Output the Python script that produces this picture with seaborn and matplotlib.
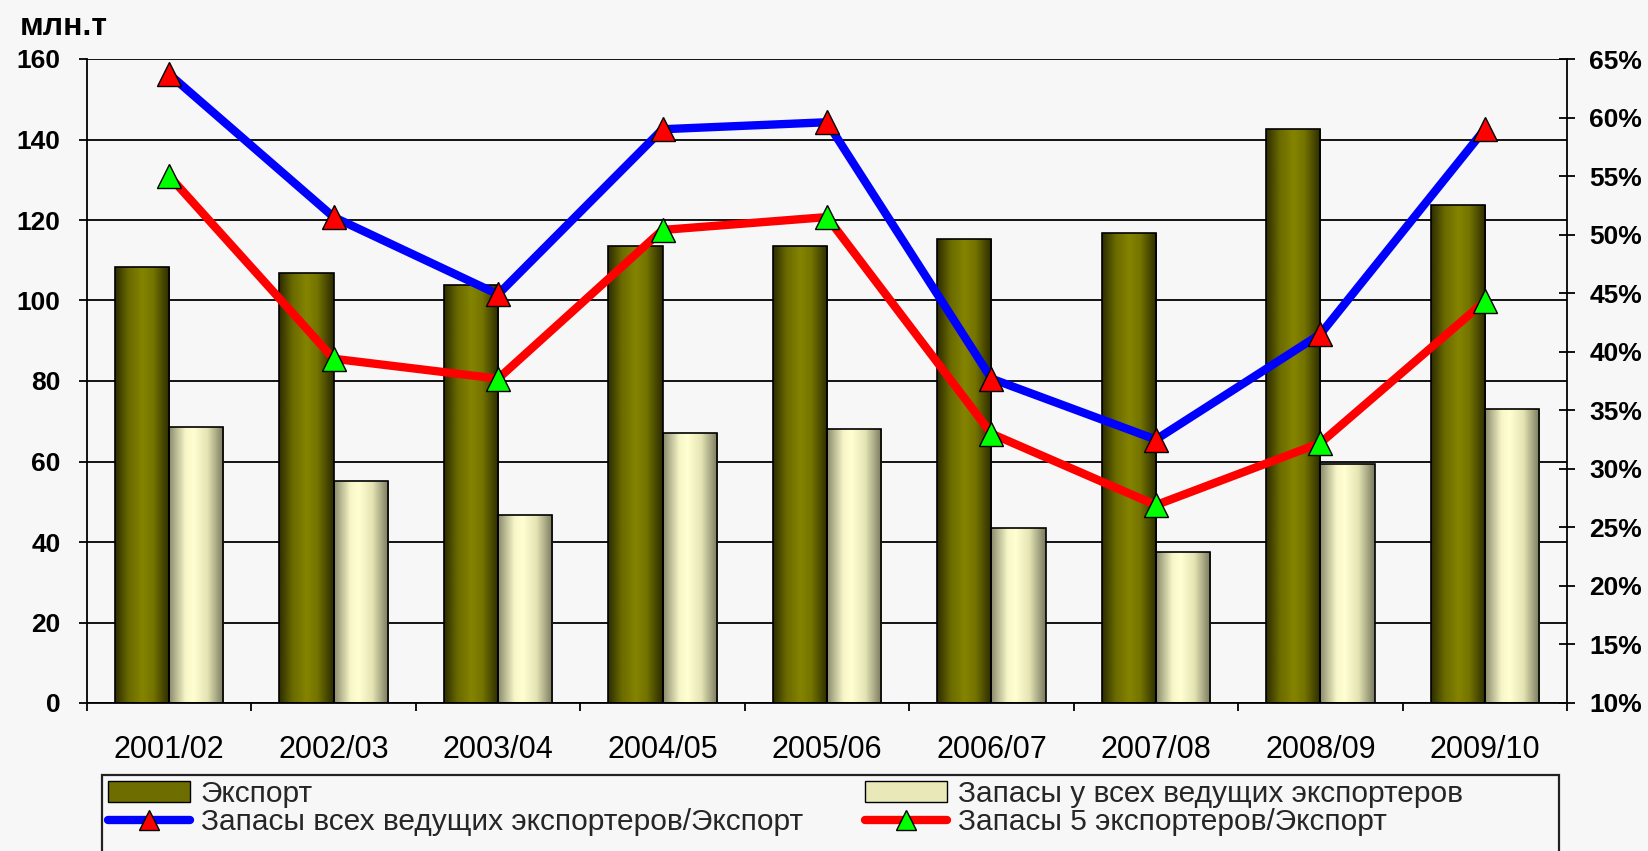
import numpy as np
import pandas as pd
import matplotlib
matplotlib.use("Agg")
import matplotlib.pyplot as plt
import seaborn as sns
from matplotlib.colors import LinearSegmentedColormap
from matplotlib.patches import Rectangle
from matplotlib.lines import Line2D
from matplotlib.ticker import MultipleLocator, FuncFormatter

# ---------------- data ----------------
years = ["2001/02", "2002/03", "2003/04", "2004/05", "2005/06",
         "2006/07", "2007/08", "2008/09", "2009/10"]
export = [108.2, 106.8, 103.8, 113.6, 113.6, 115.3, 116.8, 142.6, 123.7]
stocks = [68.6, 55.2, 46.6, 67.1, 68.0, 43.6, 37.6, 59.5, 73.0]
ratio_all = [63.7, 51.5, 44.9, 59.0, 59.6, 37.7, 32.5, 41.5, 59.0]
ratio_top5 = [55.0, 39.4, 37.7, 50.4, 51.5, 33.0, 26.9, 32.2, 44.3]

lab_export = "Экспорт"
lab_stocks = "Запасы у всех ведущих экспортеров"
lab_ratio_all = "Запасы всех ведущих экспортеров/Экспорт"
lab_ratio_5 = "Запасы 5 экспортеров/Экспорт"
unit_label = "млн.т"

# ---------------- style ----------------
BG = "#f7f7f7"
sns.set_theme(style="white")
plt.rcParams["font.family"] = ["Liberation Sans", "DejaVu Sans"]

W, H = 1648, 851
fig = plt.figure(figsize=(W / 100, H / 100), dpi=100, facecolor=BG)
ax = fig.add_axes([87 / W, 1 - 703 / H, (1567 - 87) / W, (703 - 59) / H])
ax.set_facecolor(BG)

df = pd.DataFrame({
    "year": years * 2,
    "value": export + stocks,
    "series": [lab_export] * len(years) + [lab_stocks] * len(years),
})
sns.barplot(data=df, x="year", y="value", hue="series",
            palette=["#7a7a00", "#f0f0c0"], width=0.66, gap=0,
            saturation=1, edgecolor="black", linewidth=1.2,
            legend=False, ax=ax)

# cylinder-like gradients on bars
cmap_exp = LinearSegmentedColormap.from_list(
    "exp", [(0, "#2c2c00"), (0.25, "#6a6a00"), (0.5, "#848400"),
            (0.7, "#747400"), (1, "#2a2a00")])
cmap_stk = LinearSegmentedColormap.from_list(
    "stk", [(0, "#8a8a6c"), (0.3, "#f6f6c8"), (0.45, "#ffffd2"),
            (0.7, "#e4e4b4"), (1, "#78785e")])
grad = np.linspace(0, 1, 256).reshape(1, -1)
for cont, cmap in zip(ax.containers, [cmap_exp, cmap_stk]):
    for bar in cont:
        x0, y0 = bar.get_x(), bar.get_y()
        w, h = bar.get_width(), bar.get_height()
        z = bar.get_zorder()
        im = ax.imshow(grad, cmap=cmap, extent=[x0, x0 + w, y0, y0 + h],
                       aspect="auto", origin="lower", interpolation="bicubic",
                       zorder=z + 0.05)
        im.set_clip_path(bar)
        bar.set_facecolor("none")
        bar.set_zorder(z + 0.1)

ax.set_xlim(-0.5, len(years) - 0.5)
ax.set_ylim(0, 160)
ax.set_axisbelow(True)
ax.yaxis.grid(True, color="black", linewidth=1.3)
ax.xaxis.grid(False)
ax.set_xlabel("")
ax.set_ylabel("")
ax.set_yticks(range(0, 161, 20))
ax.tick_params(axis="y", left=True, direction="out", length=6, width=1.3,
               color="black", pad=13, labelsize=19, labelcolor="black")
for t in ax.get_yticklabels():
    t.set_fontweight("bold")
ax.set_xticks(range(len(years)))
ax.set_xticklabels(years)
ax.tick_params(axis="x", which="major", bottom=False, length=0, pad=23,
               labelsize=22, labelcolor="black")
ax.set_xticks(np.arange(-0.5, len(years), 1), minor=True)
ax.tick_params(axis="x", which="minor", bottom=True, direction="out",
               length=6, width=1.3, color="black")
for s in ["top", "right"]:
    ax.spines[s].set_visible(False)
for s in ["left", "bottom"]:
    ax.spines[s].set_color("black")
    ax.spines[s].set_linewidth(1.3)

# secondary axis with ratio lines
ax2 = ax.twinx()
xpos = np.arange(len(years))
sns.lineplot(x=xpos, y=ratio_all, color="#0000ff", linewidth=6,
             marker="^", markersize=17, markerfacecolor="#ff0000",
             markeredgecolor="black", markeredgewidth=1, ax=ax2, zorder=5)
sns.lineplot(x=xpos, y=ratio_top5, color="#ff0000", linewidth=6,
             marker="^", markersize=17, markerfacecolor="#00ff00",
             markeredgecolor="black", markeredgewidth=1, ax=ax2, zorder=5)
ax2.set_ylim(10, 65)
ax2.set_xlim(-0.5, len(years) - 0.5)
ax2.yaxis.set_major_locator(MultipleLocator(5))
ax2.yaxis.set_major_formatter(FuncFormatter(lambda v, p: f"{int(round(v))}%"))
ax2.tick_params(axis="y", right=True, direction="inout", length=12,
                width=1.3, color="black", pad=10, labelsize=19,
                labelcolor="black")
for t in ax2.get_yticklabels():
    t.set_fontweight("bold")
ax2.set_ylabel("")
ax2.grid(False)
for s in ["top", "left", "bottom"]:
    ax2.spines[s].set_visible(False)
ax2.spines["right"].set_color("black")
ax2.spines["right"].set_linewidth(1.3)

# unit label
fig.text(20 / W, 1 - 35 / H, unit_label, fontsize=23, fontweight="bold",
         ha="left", va="baseline", color="black")

# legend frame + two columns
fig.add_artist(Rectangle((102 / W, -0.05), (1559 - 102) / W,
                         (H - 775) / H + 0.05, transform=fig.transFigure,
                         fill=False, edgecolor="#222222", linewidth=1.6))
h_exp = Rectangle((0, 0), 1, 1, facecolor="#6e6e00", edgecolor="black")
h_stk = Rectangle((0, 0), 1, 1, facecolor="#e8e8b8", edgecolor="black")
h_all = Line2D([], [], color="#0000ff", lw=6, marker="^", ms=15,
               mfc="#ff0000", mec="black", mew=1)
h_5 = Line2D([], [], color="#ff0000", lw=6, marker="^", ms=15,
             mfc="#00ff00", mec="black", mew=1)
common = dict(loc="upper left", frameon=False, fontsize=21.5, handlelength=2.75,
              handletextpad=0.35, labelspacing=0.0, borderpad=0,
              borderaxespad=0, numpoints=1)
fig.legend([h_exp, h_all], [lab_export, lab_ratio_all],
           bbox_to_anchor=(108 / W, 1 - 780 / H), **common)
fig.legend([h_stk, h_5], [lab_stocks, lab_ratio_5],
           bbox_to_anchor=(865 / W, 1 - 780 / H), **common)

fig.savefig("out.png", dpi=100, facecolor=BG)
